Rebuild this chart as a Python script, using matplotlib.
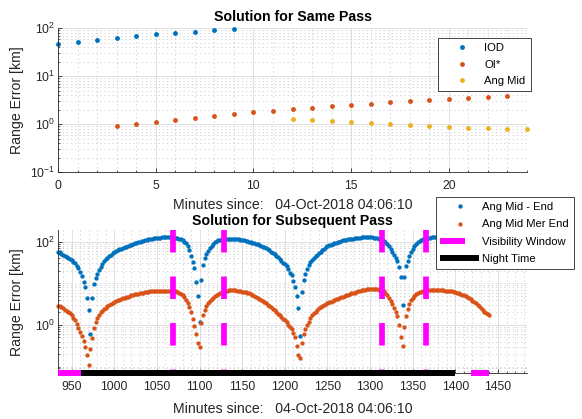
import numpy as np
import matplotlib
matplotlib.use("Agg")
import matplotlib.pyplot as plt
from matplotlib.ticker import LogLocator, FixedLocator, MultipleLocator, NullFormatter
from matplotlib.legend_handler import HandlerLine2D

plt.rcParams['font.family'] = ['Liberation Sans', 'DejaVu Sans']
plt.rcParams['mathtext.fontset'] = 'custom'
plt.rcParams['mathtext.rm'] = 'Liberation Sans'
plt.rcParams['mathtext.it'] = 'Liberation Sans:italic'
plt.rcParams['mathtext.bf'] = 'Liberation Sans:bold'
plt.rcParams['axes.unicode_minus'] = False
plt.rcParams['lines.scale_dashes'] = False

# --- same pass (minutes since epoch start) ---
iod_min = [0, 1, 2, 3, 4, 5, 6, 7, 8, 9]
iod_err = [48, 53, 58, 64, 69, 75, 80, 85, 91, 95]
oi_min = list(range(3, 24))
oi_err = [0.90, 1.00, 1.12, 1.25, 1.38, 1.49, 1.64, 1.78, 1.93, 2.08, 2.22,
          2.37, 2.53, 2.70, 2.87, 3.06, 3.16, 3.32, 3.53, 3.65, 3.83]
angmid_min = list(range(12, 25))
angmid_err = [1.31, 1.25, 1.17, 1.10, 1.05, 1.00, 0.95, 0.91, 0.87, 0.85,
              0.83, 0.80, 0.78]

# --- subsequent pass, one sample every 2 minutes from 934 to 1440 ---
t_sub = np.arange(934, 1441, 2)
mid_end_err = [
    58, 55, 52, 49, 46, 43, 41, 39, 37, 33,            # 934
    30, 26, 23, 19, 15, 11, 8.0, 4.5, 2.3, 0.6,         # 954
    4.4, 9.5, 13.5, 17, 21, 25, 29, 34, 38, 41,         # 974
    45, 49, 53, 56, 59, 62, 65, 68, 71, 73,             # 994
    76, 79, 82, 85, 88, 91, 94, 97, 100, 103,           # 1014
    106, 109, 112, 114, 116, 118, 120, 122, 124, 125,   # 1034
    126, 127, 128, 129, 129, 129, 128, 127, 126, 124,   # 1054
    121, 118, 114, 108, 100, 91, 80, 64, 46, 33,        # 1074
    23, 11, 5.0, 1.2, 12, 28, 40, 50, 61, 71,           # 1094
    80, 89, 97, 103, 108, 112, 115, 117, 118, 119,      # 1114
    119, 119, 119, 118, 117, 116, 114, 112, 110, 107,   # 1134
    104, 102, 100, 98, 95, 92, 89, 86, 82, 79,          # 1154
    76, 73, 69, 65, 62, 58, 54, 50, 46, 43,             # 1174
    39, 35, 31, 29, 26, 22, 18, 15.5, 11.5, 8.0,        # 1194
    4.9, 2.6, 0.53, 6.2, 12, 17, 22, 27, 32, 37,        # 1214
    41, 45, 49, 53, 58, 63, 68, 73, 77, 81,             # 1234
    85, 89, 92, 95, 98, 101, 104, 107, 109, 111,        # 1254
    113, 115, 117, 119, 121, 123, 125, 126, 127, 128,   # 1274
    128, 129, 129, 128, 127, 126, 124, 121, 118, 115,   # 1294
    112, 106, 98, 88, 78, 68, 58, 49, 41, 34,           # 1314
    25, 14, 3.0, 14, 26, 35, 45, 56, 66, 77,            # 1334
    87, 96, 104, 110, 115, 118, 121, 123, 125, 127,     # 1354
    128, 129, 129, 129, 129, 128, 127, 126, 125, 123,   # 1374
    121, 119, 116, 113, 110, 107, 103, 99, 95, 91,      # 1394
    87, 82, 77, 72, 67, 62, 57, 52, 47, 42,             # 1414
    38, 34, 31, 28,                                     # 1434
]
mer_end_err = [
    2.9, 2.8, 2.65, 2.5, 2.35, 2.2, 2.05, 1.9, 1.71, 1.5,     # 934
    1.3, 1.08, 0.85, 0.68, 0.53, 0.41, 0.30, 0.19, 0.11, 0.26, # 954
    0.49, 0.85, 1.2, 1.5, 1.75, 2.0, 2.2, 2.4, 2.6, 2.8,       # 974
    2.95, 3.15, 3.35, 3.55, 3.7, 3.9, 4.05, 4.2, 4.35, 4.5,    # 994
    4.65, 4.8, 4.95, 5.1, 5.25, 5.4, 5.5, 5.65, 5.8, 5.9,      # 1014
    6.0, 6.1, 6.2, 6.3, 6.4, 6.45, 6.5, 6.55, 6.6, 6.65,       # 1034
    6.7, 6.7, 6.7, 6.7, 6.7, 6.65, 6.6, 6.55, 6.5, 6.45,       # 1054
    6.3, 6.0, 5.6, 5.2, 4.6, 4.0, 3.4, 2.7, 2.0, 1.4,          # 1074
    0.95, 0.6, 0.36, 0.3, 1.1, 1.7, 2.3, 2.9, 3.3, 3.75,       # 1094
    4.15, 4.5, 4.85, 5.2, 5.5, 5.8, 6.1, 6.4, 6.6, 6.7,        # 1114
    6.75, 6.8, 6.8, 6.8, 6.75, 6.65, 6.55, 6.45, 6.3, 6.2,     # 1134
    6.05, 5.9, 5.7, 5.5, 5.3, 5.05, 4.8, 4.55, 4.3, 4.05,      # 1154
    3.8, 3.55, 3.3, 3.05, 2.85, 2.65, 2.45, 2.25, 2.05, 1.85,  # 1174
    1.7, 1.55, 1.4, 1.28, 1.15, 1.02, 0.9, 0.78, 0.64, 0.5,    # 1194
    0.31, 0.19, 0.16, 0.36, 0.6, 0.8, 0.97, 1.2, 1.45, 1.7,    # 1214
    1.9, 2.1, 2.3, 2.5, 2.7, 2.9, 3.05, 3.2, 3.37, 3.5,        # 1234
    3.65, 3.8, 3.95, 4.1, 4.25, 4.4, 4.6, 4.8, 5.0, 5.2,       # 1254
    5.35, 5.5, 5.7, 5.85, 6.0, 6.2, 6.4, 6.6, 6.8, 7.0,        # 1274
    7.1, 7.2, 7.3, 7.3, 7.3, 7.25, 7.2, 7.15, 7.1, 7.05,       # 1294
    7.0, 6.5, 5.9, 5.2, 4.4, 3.7, 3.1, 2.56, 2.05, 1.6,        # 1314
    1.0, 0.5, 0.31, 0.9, 1.6, 2.4, 3.1, 3.9, 4.5, 5.0,         # 1334
    5.4, 5.75, 6.05, 6.3, 6.5, 6.65, 6.8, 6.9, 6.95, 7.0,      # 1354
    7.0, 7.0, 7.0, 6.95, 6.9, 6.85, 6.8, 6.7, 6.65, 6.55,      # 1374
    6.5, 6.4, 6.25, 6.1, 5.95, 5.75, 5.55, 5.35, 5.1, 4.9,     # 1394
    4.65, 4.4, 4.1, 3.8, 3.55, 3.3, 3.05, 2.8, 2.55, 2.3,      # 1414
    2.1, 1.9, 1.8, 1.74,                                       # 1434
]

# visibility window edges (vertical markers) and windows / night along the floor
vis_marks = [1069, 1129, 1314, 1366]
vis_spans = [(934, 961), (1418, 1439)]
night_span = (961, 1400)

xlabel_txt = 'Minutes since:   04-Oct-2018 04:06:10'
C_BLUE = '#0072BD'
C_ORANGE = '#D95319'
C_YELLOW = '#EDB120'
C_MAG = '#FF00FF'
TXT = '#262626'
TICK_FS = 8.8
LBL_FS = 10.2
LEG_FS = 8.1


class ShortLineHandler(HandlerLine2D):
    """legend line that only fills part of the handle box"""
    def __init__(self, frac, **kw):
        super().__init__(**kw)
        self.frac = frac

    def create_artists(self, legend, orig_handle, xdescent, ydescent,
                       width, height, fontsize, trans):
        return super().create_artists(legend, orig_handle, xdescent, ydescent,
                                      width * self.frac, height, fontsize, trans)


def style_axes(ax):
    for s in ['top', 'right']:
        ax.spines[s].set_visible(False)
    for s in ['left', 'bottom']:
        ax.spines[s].set_color(TXT)
        ax.spines[s].set_linewidth(0.6)
    ax.tick_params(which='both', direction='in', colors=TXT, labelsize=TICK_FS)
    ax.tick_params(which='major', length=2.8, width=0.6)
    ax.tick_params(which='minor', length=1.6, width=0.5)
    ax.tick_params(axis='x', pad=5.5)
    ax.tick_params(axis='y', pad=2)
    ax.grid(True, which='major', color='#dcdcdc', lw=0.6, ls='-')
    ax.grid(True, which='minor', color='#c8c8c8', lw=0.5, ls=(0, (1, 2)))
    ax.set_axisbelow(True)


def style_legend(leg):
    fr = leg.get_frame()
    fr.set_edgecolor(TXT)
    fr.set_linewidth(0.6)
    fr.set_alpha(1)
    leg.set_zorder(10)


fig = plt.figure(figsize=(5.82, 4.19), dpi=100)

# ---------------- top: same pass ----------------
ax1 = fig.add_axes([0.0997, 0.5888, 0.8058, 0.3437])
ax1.set_yscale('log')
ms_top = 3.5
ax1.plot(iod_min, iod_err, 'o', color=C_BLUE, ms=ms_top, mew=0, label='IOD', clip_on=False)
ax1.plot(oi_min, oi_err, 'o', color=C_ORANGE, ms=ms_top, mew=0, label='OI*', clip_on=False)
ax1.plot(angmid_min, angmid_err, 'o', color=C_YELLOW, ms=ms_top, mew=0, label='Ang Mid', clip_on=False)
ax1.set_xlim(0, 24)
ax1.set_ylim(0.1, 100)
ax1.xaxis.set_major_locator(FixedLocator([0, 5, 10, 15, 20]))
ax1.xaxis.set_minor_locator(MultipleLocator(1))
ax1.yaxis.set_major_locator(LogLocator(base=10, numticks=10))
ax1.yaxis.set_minor_locator(LogLocator(base=10, subs=np.arange(2, 10), numticks=20))
ax1.yaxis.set_minor_formatter(NullFormatter())
style_axes(ax1)

t1 = ax1.set_title('Solution for Same Pass', fontsize=LBL_FS, fontweight='bold',
                   color='black', y=1.078, pad=0)
t1.set_va('center')
ax1.set_xlabel(xlabel_txt, fontsize=LBL_FS, color=TXT)
ax1.xaxis.set_label_coords(0.5, -0.228)
ax1.xaxis.label.set_va('center')
ax1.set_ylabel('Range Error [km]', fontsize=LBL_FS, color=TXT)
ax1.yaxis.set_label_coords(-0.087, 0.5)
ax1.yaxis.label.set_va('center')

leg1 = ax1.legend(loc='upper left', bbox_to_anchor=(438.3 / 582, 1 - 37.7 / 419),
                  bbox_transform=fig.transFigure, fontsize=LEG_FS, frameon=True,
                  fancybox=False, borderpad=0.45, labelspacing=0.6,
                  handlelength=3.3, handletextpad=0.35, borderaxespad=0)
style_legend(leg1)

# ---------------- bottom: subsequent pass ----------------
ax2 = fig.add_axes([0.0997, 0.1091, 0.8058, 0.3420])
ax2.set_yscale('log')
y_floor = 0.069
y_top = 191
ms_bot = 3.1
ax2.plot(t_sub, mid_end_err, 'o', color=C_BLUE, ms=ms_bot, mew=0, label='Ang Mid - End', clip_on=False)
ax2.plot(t_sub, mer_end_err, 'o', color=C_ORANGE, ms=ms_bot, mew=0, label='Ang Mid Mer End', clip_on=False)

for tm in vis_marks:
    ax2.plot([tm, tm], [y_top, y_floor], color=C_MAG, lw=4.1, dashes=(16.2, 17.3),
             solid_capstyle='butt', dash_capstyle='butt', zorder=3)

vis_x, vis_y = [], []
for a, b in vis_spans:
    vis_x += [a, b, np.nan]
    vis_y += [y_floor, y_floor, np.nan]
ax2.plot(vis_x, vis_y, color=C_MAG, lw=4.3, solid_capstyle='butt', clip_on=False,
         zorder=4, label='Visibility Window')
ax2.plot(night_span, [y_floor, y_floor], color='black', lw=4.3, solid_capstyle='butt',
         clip_on=False, zorder=5, label='Night Time')

ax2.set_xlim(934, 1484)
ax2.set_ylim(y_floor, y_top)
ax2.xaxis.set_major_locator(MultipleLocator(50))
ax2.xaxis.set_minor_locator(MultipleLocator(10))
ax2.yaxis.set_major_locator(FixedLocator([1, 100]))
ax2.yaxis.set_minor_locator(LogLocator(base=10, subs=np.arange(1, 10), numticks=20))
ax2.yaxis.set_minor_formatter(NullFormatter())
ax2.yaxis.set_major_formatter(matplotlib.ticker.LogFormatterSciNotation())
style_axes(ax2)

t2 = ax2.set_title('Solution for Subsequent Pass', fontsize=LBL_FS, fontweight='bold',
                   color='black', y=1.064, pad=0)
t2.set_va('center')
ax2.set_xlabel(xlabel_txt, fontsize=LBL_FS, color=TXT)
ax2.xaxis.set_label_coords(0.5, -0.249)
ax2.xaxis.label.set_va('center')
ax2.set_ylabel('Range Error [km]', fontsize=LBL_FS, color=TXT)
ax2.yaxis.set_label_coords(-0.087, 0.5)
ax2.yaxis.label.set_va('center')

handles, labels = ax2.get_legend_handles_labels()
leg2 = ax2.legend(handles, labels, loc='upper left',
                  bbox_to_anchor=(435.7 / 582, 1 - 197.3 / 419),
                  bbox_transform=fig.transFigure, fontsize=LEG_FS, frameon=True,
                  fancybox=False, borderpad=0.42, labelspacing=0.66,
                  handlelength=3.47, handletextpad=0.27, borderaxespad=0,
                  handler_map={handles[2]: ShortLineHandler(0.63)})
style_legend(leg2)

fig.savefig('out.png', dpi=100)
